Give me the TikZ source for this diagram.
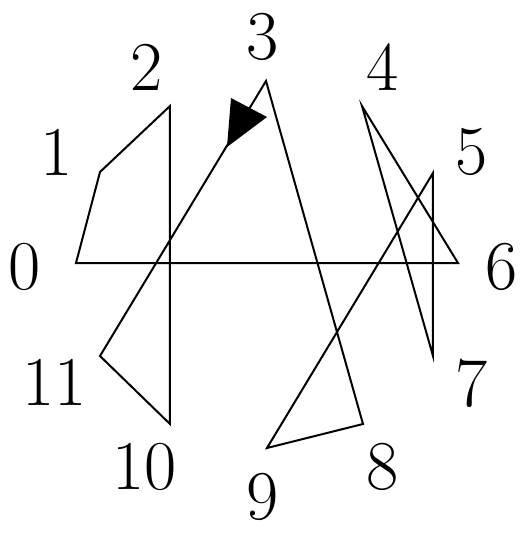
\documentclass[tikz,border=0pt]{standalone}
\begin{document}
\begin{tikzpicture}[x=0.5pt,y=-0.5pt,
  edge/.style={draw=black, line width=1pt, line join=miter},
  lbl/.style={inner sep=0pt, font=\fontsize{35}{40}\selectfont}]
\useasboundingbox (0,0) rectangle (522,543);
% vertices
\coordinate (v0) at (76,263);
\coordinate (v1) at (100,172);
\coordinate (v2) at (170,106);
\coordinate (v3) at (266,81);
\coordinate (v4) at (362,106);
\coordinate (v5) at (433,173);
\coordinate (v6) at (458,263);
\coordinate (v7) at (433,356);
\coordinate (v8) at (363,424);
\coordinate (v9) at (267,448);
\coordinate (v10) at (170,424);
\coordinate (v11) at (100,356);
% labels
\node[lbl] (l0) at (25,267) {0};
\node[lbl] (l1) at (57,152) {1};
\node[lbl] (l2) at (147,67) {2};
\node[lbl] (l3) at (263,37) {3};
\node[lbl] (l4) at (383,67) {4};
\node[lbl] (l5) at (472,152) {5};
\node[lbl] (l6) at (502,267) {6};
\node[lbl] (l7) at (472,383) {7};
\node[lbl] (l8) at (383,467) {8};
\node[lbl] (l9) at (263,497) {9};
\node[lbl] (l10) at (145,467) {10};
\node[lbl] (l11) at (55,382) {11};
% path
\draw[edge] (v0) -- (v1) -- (v2) -- (v10) -- (v11) -- (v3) -- (v8) -- (v9)
  -- (v5) -- (v7) -- (v4) -- (v6) -- cycle;
% arrowhead
\coordinate (a1) at (231,98);
\coordinate (a2) at (267,117);
\coordinate (a3) at (227,147);
\fill[black] (a1) -- (a2) -- (a3) -- cycle;
\end{tikzpicture}
\end{document}
